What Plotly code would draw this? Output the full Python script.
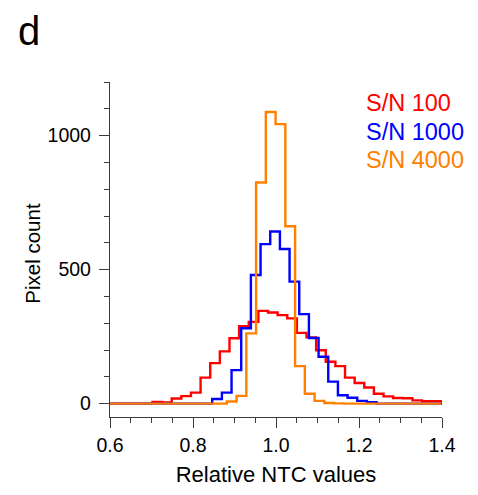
import numpy as np
import plotly.graph_objects as go

# ---- data ----
series_names = ["S/N 100", "S/N 1000", "S/N 4000"]
series_colors = ["#FF0000", "#0000FF", "#FF8000"]

# first bin edge and bin width of each histogram (Relative NTC units)
red_start, red_width = 0.5863, 0.0232
blue_start, blue_width = 0.5900, 0.0233
orange_start, orange_width = 0.5995, 0.0235

# pixel counts per bin
red_counts = [0, 0, 0, 0, 0, 6, 4, 19, 28, 41, 97, 151, 195, 244, 289, 305, 346, 340,
              330, 318, 264, 247, 199, 156, 140, 97, 77, 60, 37, 27, 21, 20, 12, 9, 9, 8]
blue_counts = [0, 0, 0, 0, 0, 0, 0, 0, 0, 0, 0, 17, 41, 125, 281, 480, 595, 642, 577,
               455, 334, 245, 175, 82, 31, 22, 10, 5, 0, 0, 0, 0, 0, 0, 0]
orange_counts = [0, 0, 0, 0, 0, 0, 0, 0, 0, 0, 0, 0, 8, 29, 262, 825, 1088, 1043, 662,
                 140, 37, 10, 2, 1, 0, 0, 0, 0, 0, 0, 0, 0, 0, 0]

x_ticks = [0.6, 0.8, 1.0, 1.2, 1.4]
y_ticks = [0, 500, 1000]

starts = [red_start, blue_start, orange_start]
widths = [red_width, blue_width, orange_width]
counts = [red_counts, blue_counts, orange_counts]

FONT = "Liberation Sans, Arial, sans-serif"
AX = "#3a3a3a"

fig = go.Figure()
for name, col, s, w, c in zip(series_names, series_colors, starts, widths, counts):
    edges = s + w * np.arange(len(c) + 1)
    yv = list(c) + [c[-1]]
    fig.add_trace(go.Scatter(x=edges, y=yv, mode="lines", name=name,
                             line=dict(color=col, width=2.4, shape="hv"),
                             showlegend=False, hoverinfo="skip"))

# legend as coloured text
legend_y = [0.937, 0.852, 0.767]
for name, col, ly in zip(series_names, series_colors, legend_y):
    fig.add_annotation(text=name, xref="paper", yref="paper", x=0.766, y=ly,
                       xanchor="left", yanchor="middle", showarrow=False,
                       font=dict(family=FONT, size=23.5, color=col))

# panel letter
fig.add_annotation(text="d", xref="paper", yref="paper", x=-0.283, y=1.153,
                   xanchor="left", yanchor="middle", showarrow=False,
                   font=dict(family=FONT, size=40, color="black"))

# y-axis title
fig.add_annotation(text="Pixel count", xref="paper", yref="paper", x=-0.2334, y=0.489,
                   xanchor="center", yanchor="middle", textangle=-90, showarrow=False,
                   font=dict(family=FONT, size=20.5, color="black"))

axis_common = dict(showline=True, linecolor=AX, linewidth=1.3, ticks="outside",
                   ticklen=10, tickwidth=1.3, tickcolor=AX, showgrid=False,
                   zeroline=False, tickfont=dict(family=FONT, size=19.5, color="black"))

fig.update_xaxes(range=[0.6, 1.4], tickvals=x_ticks,
                 ticktext=[f"{v:.1f}" for v in x_ticks],
                 minor=dict(dtick=0.05, ticklen=5, tickwidth=1.3, tickcolor=AX, ticks="outside"),
                 ticklabelstandoff=0,
                 title=dict(text="Relative NTC values", font=dict(family=FONT, size=22, color="black"),
                            standoff=12),
                 **axis_common)
fig.update_yaxes(range=[-50, 1200], tickvals=y_ticks,
                 ticktext=[str(v) for v in y_ticks],
                 minor=dict(dtick=100, tick0=0, ticklen=5, tickwidth=1.3, tickcolor=AX, ticks="outside"),
                 ticklabelstandoff=4,
                 **axis_common)

# page body has an 8px margin, so the figure is 8px smaller than the window
fig.update_layout(width=470, height=487, margin=dict(l=102, r=36, t=74, b=78),
                  plot_bgcolor="white", paper_bgcolor="white",
                  font=dict(family=FONT))

fig.write_html("out.html")
